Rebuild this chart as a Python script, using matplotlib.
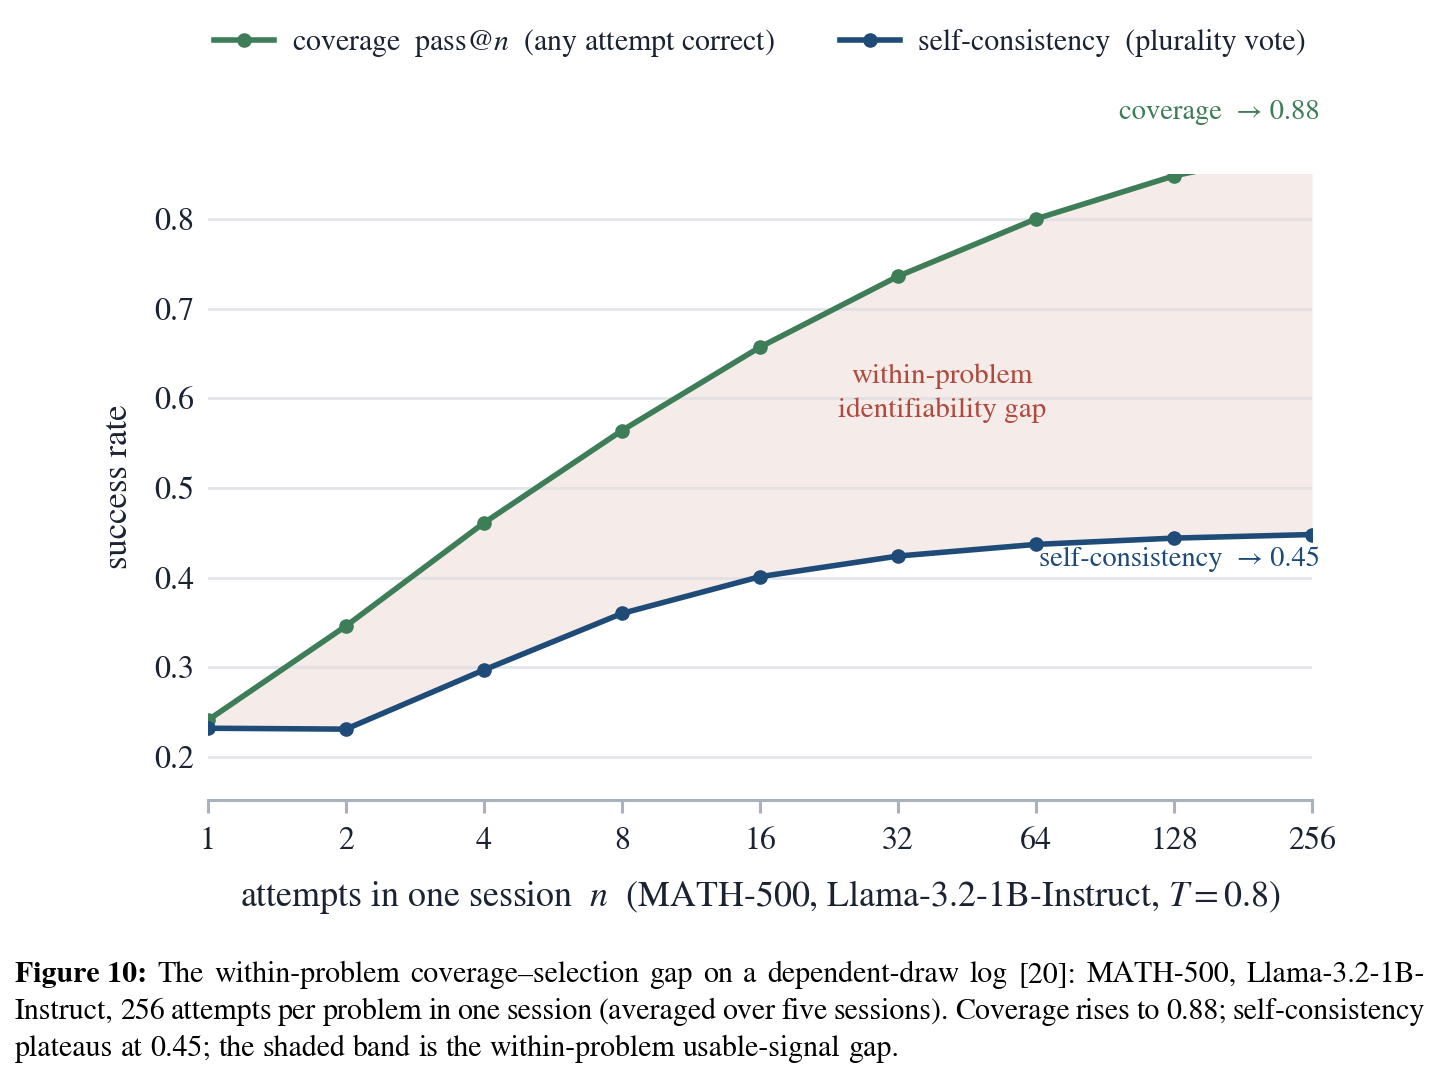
import numpy as np
import matplotlib
matplotlib.use('Agg')
import matplotlib.pyplot as plt

plt.rcParams['font.family'] = ['STIXGeneral', 'DejaVu Serif']
plt.rcParams['mathtext.fontset'] = 'stix'

# data
attempts = [1, 2, 4, 8, 16, 32, 64, 128, 256]
coverage = [0.241, 0.346, 0.461, 0.564, 0.657, 0.736, 0.800, 0.848, 0.880]
self_consistency = [0.232, 0.231, 0.297, 0.360, 0.401, 0.424, 0.437, 0.444, 0.448]
y_ticks = [0.2, 0.3, 0.4, 0.5, 0.6, 0.7, 0.8]

GREEN = '#3d7d57'
BLUE = '#1f4b78'
FILL = '#f5ebe8'
RED = '#b04a3f'
INK = '#1b2333'
SPINE = '#aab2bf'

fig = plt.figure(figsize=(14.39, 10.79), dpi=100)
ax = fig.add_axes([0.1445, 0.2586, 0.7673, 0.5801])

ax.fill_between(attempts, self_consistency, coverage, color=FILL, lw=0, zorder=1)
for yv in y_ticks:
    ax.axhline(yv, color='#dcdde2', lw=2, alpha=0.75, zorder=1.5)

ax.plot(attempts, coverage, color=GREEN, lw=4, marker='o', ms=9.5,
        label=r'coverage  pass@$n$  (any attempt correct)', zorder=3)
ax.plot(attempts, self_consistency, color=BLUE, lw=4, marker='o', ms=9.5,
        label='self-consistency  (plurality vote)', zorder=3)

ax.set_xscale('log', base=2)
ax.set_xlim(1, 256)
ax.set_ylim(0.152, 0.85)
ax.set_xticks(attempts)
ax.set_xticklabels([str(a) for a in attempts])
ax.minorticks_off()
ax.set_yticks(y_ticks)
ax.set_yticklabels([f'{v:.1f}' for v in y_ticks])

for s in ['top', 'right', 'left']:
    ax.spines[s].set_visible(False)
ax.spines['bottom'].set_color(SPINE)
ax.spines['bottom'].set_linewidth(2.2)
ax.tick_params(axis='x', length=9, width=2.2, color=SPINE, pad=10,
               labelsize=23, labelcolor=INK)
ax.tick_params(axis='y', length=0, pad=10, labelsize=23, labelcolor=INK)

ax.set_xlabel(r'attempts in one session  $n$  (MATH-500, Llama-3.2-1B-Instruct, $T = 0.8$)',
              fontsize=25.8, color=INK, labelpad=16)
ax.set_ylabel('success rate', fontsize=25, color=INK, labelpad=14)

ax.text(1.007, 1.098, 'coverage  \u2192 0.88', transform=ax.transAxes,
        ha='right', va='center', fontsize=20.5, color=GREEN)
ax.text(1.007, 0.4208, 'self-consistency  \u2192 0.45',
        transform=ax.get_yaxis_transform(), ha='right', va='center',
        fontsize=20.5, color=BLUE, zorder=4)
ax.text(40, 0.6054, 'within-problem\nidentifiability gap', ha='center', va='center',
        fontsize=21, color=RED, linespacing=1.45, zorder=4)

leg = ax.legend(loc='center', bbox_to_anchor=(0.5, 1.0 + (174 - 43) / 626.0),
                ncol=2, frameon=False, fontsize=21.5, handlelength=2.0,
                columnspacing=2.2, handletextpad=0.6)
for t in leg.get_texts():
    t.set_color(INK)

# caption, justified like the source
cap_lines = [
    ('Figure 10:', 'The within-problem coverage\u2013selection gap on a dependent-draw log [20]: MATH-500, Llama-3.2-1B-', True),
    ('', 'Instruct, 256 attempts per problem in one session (averaged over five sessions). Coverage rises to 0.88; self-consistency', True),
    ('', 'plateaus at 0.45; the shaded band is the within-problem usable-signal gap.', False),
]
cap_y = [975, 1012, 1049]
left_px, right_px = 15, 1425
cap_size = 21.5
W = fig.bbox.width
H = fig.bbox.height
fig.canvas.draw()
renderer = fig.canvas.get_renderer()
space_t = fig.text(0, 0, 'a a', fontsize=cap_size)
aa_t = fig.text(0, 0, 'aa', fontsize=cap_size)
space_w = space_t.get_window_extent(renderer).width - aa_t.get_window_extent(renderer).width
space_t.remove()
aa_t.remove()
for (bold, rest, justify), ypx in zip(cap_lines, cap_y):
    yy = 1 - ypx / H
    words = []
    if bold:
        words.append((bold, 'bold'))
    words += [(w, 'normal') for w in rest.split(' ')]
    items = []
    total = 0
    for w, weight in words:
        t = fig.text(0, yy, w, fontsize=cap_size, fontweight=weight, color='black', va='center')
        wd = t.get_window_extent(renderer).width
        items.append((t, wd))
        total += wd
    gap = space_w
    if justify and len(items) > 1:
        gap = (right_px - left_px - total) / (len(items) - 1)
    x = left_px
    for t, wd in items:
        t.set_x(x / W)
        x += wd + gap

fig.savefig('out.png', dpi=100)
